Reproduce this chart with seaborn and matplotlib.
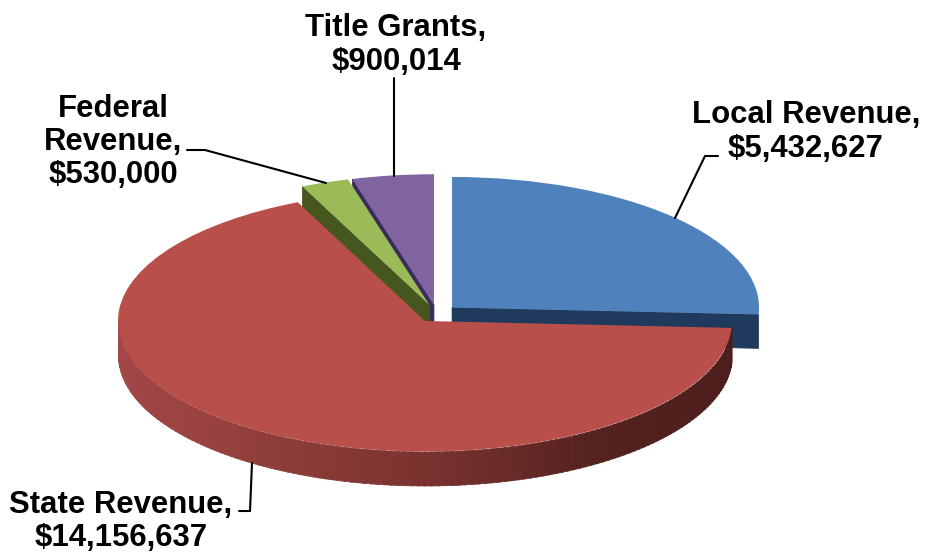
import numpy as np
import matplotlib
matplotlib.use("Agg")
import matplotlib.pyplot as plt
from matplotlib.colors import LinearSegmentedColormap
import seaborn as sns

# Revenue sources, clockwise from twelve o'clock
sources = ["Local Revenue", "State Revenue", "Federal Revenue", "Title Grants"]
amounts = [5432627, 14156637, 530000, 900014]

top_colors = ["#4f81bd", "#b94f4b", "#9bbb59", "#8064a2"]
face_colors = ["#1f3a5c", "#4a1f1d", "#45571f", "#3a2d5c"]

sns.set_theme(style="white")
plt.rcParams["font.family"] = ["Liberation Sans", "DejaVu Sans"]

W, H = 929, 556
fig = plt.figure(figsize=(W / 100, H / 100), dpi=100)
ax = fig.add_axes([0, 0, 1, 1])

wedges, _ = ax.pie(
    amounts,
    colors=sns.color_palette(top_colors),
    startangle=90,
    counterclock=False,
    explode=[0.0684] * len(amounts),
    radius=1,
    wedgeprops={"linewidth": 0, "edgecolor": "none"},
)

# The tilted view comes from unequal axis scales: 307 px per unit across, 130.5 px up
X_SCALE, Y_SCALE = 307.0, 130.5
CX, CY = 436.8, 313.6
ax.set_aspect("auto")
ax.set_xlim(-CX / X_SCALE, (W - CX) / X_SCALE)
ax.set_ylim(-(H - CY) / Y_SCALE, CY / Y_SCALE)
ax.axis("off")

DEPTH = 34 / Y_SCALE


def rim(wedge, a0, a1, n=40):
    t = np.radians(np.linspace(a0, a1, n))
    return wedge.center[0] + wedge.r * np.cos(t), wedge.center[1] + wedge.r * np.sin(t)


def rim_band(wedge, a0, a1, color, z):
    x, y = rim(wedge, a0, a1)
    ax.fill_between(x, y - DEPTH, y, color=color, lw=0.5, zorder=z)


def cut_face(wedge, angle, color, z):
    t = np.radians(angle)
    cx, cy = wedge.center
    ox, oy = cx + wedge.r * np.cos(t), cy + wedge.r * np.sin(t)
    ax.fill([cx, ox, ox, cx], [cy, oy, oy - DEPTH, cy - DEPTH], color=color, lw=0.5, zorder=z)


local, state, federal, title = wedges

# Stack back to front so nearer slices hide the cut faces behind them
title.set_zorder(1.5)
cut_face(title, title.theta2, face_colors[3], 1)
federal.set_zorder(2.5)
cut_face(federal, federal.theta2, face_colors[2], 2)
local.set_zorder(3.5)
cut_face(local, local.theta1, face_colors[0], 3)
state.set_zorder(4.5)

# Shaded rim of the largest slice, darkening from left to right
shade = LinearSegmentedColormap.from_list(
    "rim",
    [(0.0, "#a5474a"), (0.25, "#994340"), (0.5, "#7c3330"), (0.7, "#54221f"), (1.0, "#4a1d1b")],
)
edges = np.linspace(-180, state.theta2, 141)
for i, (a0, a1) in enumerate(zip(edges[:-1], edges[1:])):
    rim_band(state, a0, a1 + 0.3, shade(i / (len(edges) - 2)), 4)

# Labels and leader lines are placed on a pixel-scaled overlay
overlay = fig.add_axes([0, 0, 1, 1], zorder=10)
overlay.set_xlim(0, W)
overlay.set_ylim(H, 0)
overlay.axis("off")
overlay.patch.set_alpha(0)

label_text = {
    "Local Revenue": "Local Revenue,\n${:,}",
    "State Revenue": "State Revenue,\n${:,}",
    "Federal Revenue": "Federal\nRevenue,\n${:,}",
    "Title Grants": "Title Grants,\n${:,}",
}
label_pos = {
    "Local Revenue": (806, 132),
    "State Revenue": (121, 521.5),
    "Federal Revenue": (113, 142),
    "Title Grants": (396, 45),
}
leaders = {
    "Local Revenue": ([718, 705, 675], [156, 156, 218]),
    "State Revenue": ([239, 250, 252], [511, 511, 463]),
    "Federal Revenue": ([187, 205, 326], [150, 150, 183]),
    "Title Grants": ([394, 394], [78, 176]),
}

for name, amount in zip(sources, amounts):
    x, y = label_pos[name]
    overlay.text(
        x, y, label_text[name].format(amount),
        ha="center", va="center", multialignment="center",
        fontsize=22.4, fontweight="bold", color="black", linespacing=1.15,
    )
    lx, ly = leaders[name]
    overlay.plot(lx, ly, color="black", lw=1.5, solid_joinstyle="miter")

fig.savefig("out.png", dpi=100, facecolor="white")
